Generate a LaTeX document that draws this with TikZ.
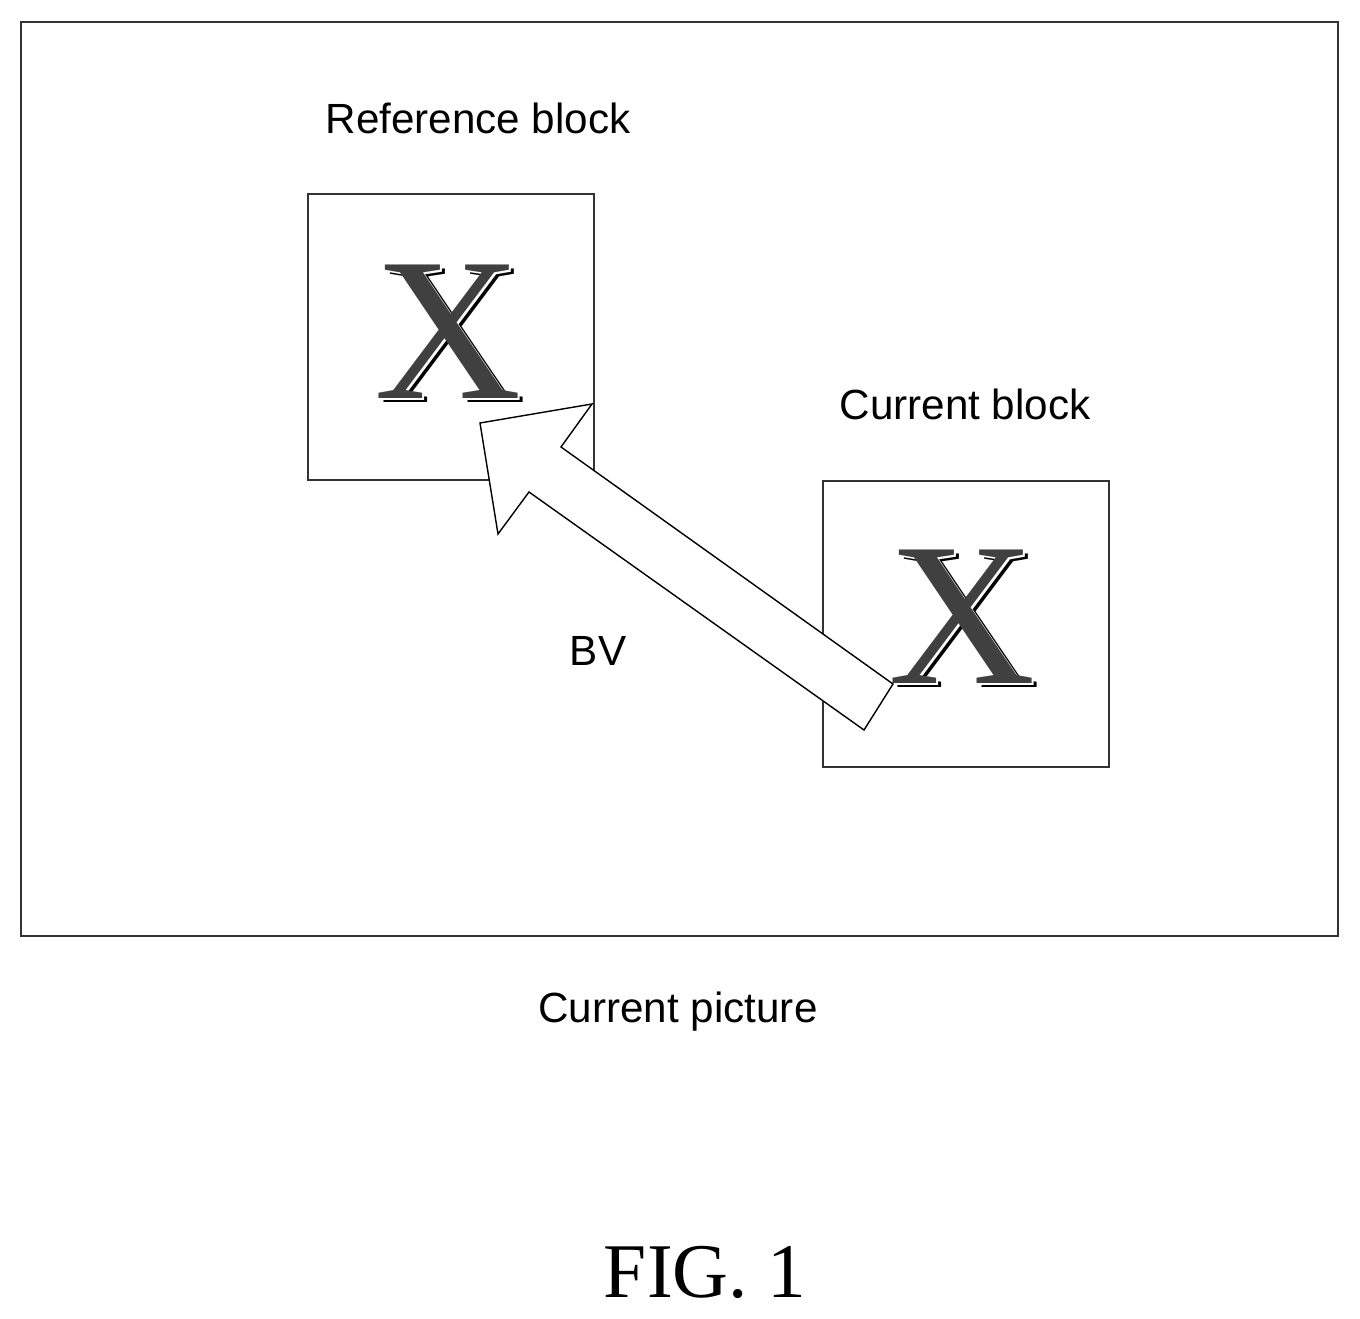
\documentclass[tikz,border=0pt]{standalone}
\usepackage{fontspec}
\setmainfont{Liberation Serif}
\setsansfont{Liberation Sans}
\usetikzlibrary{positioning, calc}

\begin{document}
\begin{tikzpicture}[
    x=0.01cm, y=-0.01cm,
    font=\sffamily,
    block/.style={draw=black!80, thin, minimum width=2.86cm, minimum height=2.86cm, inner sep=0pt},
    label/.style={font=\sffamily\fontsize{12}{14}\selectfont},
    bigx/.style={font=\rmfamily\fontsize{58}{60}\selectfont, inner sep=0pt}
]
    \useasboundingbox (0,0) rectangle (1360,1319);

    % Picture frame
    \draw[black!80, thin] (21,22) rectangle (1338,936);

    % Blocks
    \node[block] (refblk) at (451,337) {};
    \node[block] (curblk) at (966,624) {};

    % Letters inside the blocks
    \foreach \name/\px/\py in {refx/448/332, curx/962/617} {
        \node[bigx, text=black] at (\px+5,\py+4) {X};
        \node[bigx, text=white] at (\px+2.5,\py+2) {X};
        \node[bigx, text=black!75] (\name) at (\px,\py) {X};
    }

    % Block labels
    \node[label] (reflbl) at (478,118) {Reference block};
    \node[label] (curlbl) at (965,404) {Current block};

    % Block vector arrow
    \coordinate (tip) at (592,404);
    \draw[fill=white, thin] (tip) -- (480,423) -- (498,534) -- (529,492)
        -- (864,730) -- (893,684) -- (561,447) -- cycle;
    \node[label] (bv) at (598,651) {BV};

    % Captions
    \node[label] (piclbl) at (678,1012) {Current picture};
    \node[font=\rmfamily\fontsize{22}{24}\selectfont] (fig) at (705,1272) {FIG. 1};
\end{tikzpicture}
\end{document}
